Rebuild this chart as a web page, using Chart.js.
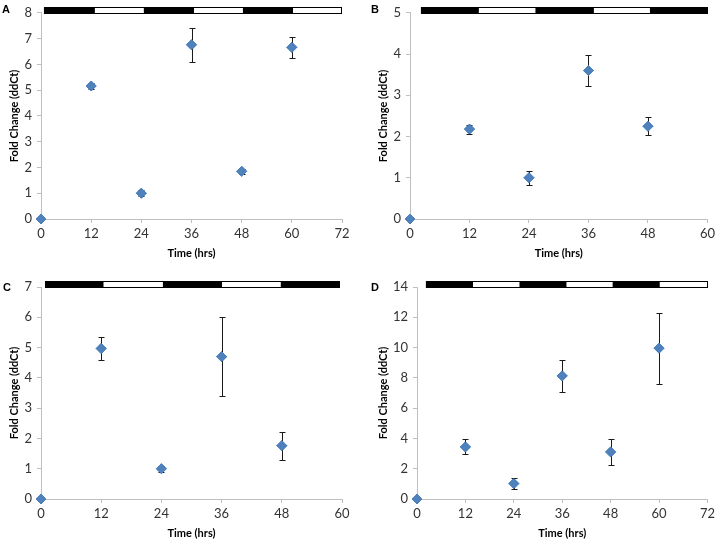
<!DOCTYPE html>
<html><head><meta charset="utf-8">
<script src="https://cdn.jsdelivr.net/npm/chart.js@4.4.1/dist/chart.umd.min.js"></script>
<style>
body{margin:0;background:#fff;width:718px;height:540px;position:relative;overflow:hidden}
.p{position:absolute;width:359px;height:270px}
.lbl{position:absolute;font:bold 11px/11px "Liberation Sans",Arial,sans-serif;color:#000}
</style></head><body>
<div class="p" style="left:0;top:0"><canvas id="cA"></canvas></div>
<div class="p" style="left:359px;top:0"><canvas id="cB"></canvas></div>
<div class="p" style="left:0;top:270px"><canvas id="cC"></canvas></div>
<div class="p" style="left:359px;top:270px"><canvas id="cD"></canvas></div>
<div class="lbl" style="left:2px;top:4px">A</div>
<div class="lbl" style="left:371px;top:4px">B</div>
<div class="lbl" style="left:3px;top:282px">C</div>
<div class="lbl" style="left:371px;top:282px">D</div>
<script>
// ---- data ----
const timesA = [0, 12, 24, 36, 48, 60];
const meanA  = [0, 5.16, 1.0, 6.76, 1.85, 6.66];
const upA    = [0, 5.27, 1.12, 7.41, 1.94, 7.08];
const loA    = [0, 5.05, 0.88, 6.10, 1.76, 6.24];
const ldA    = [0.7, 12.9, 24.6, 36.6, 48.3, 60.3, 72];

const timesB = [0, 12, 24, 36, 48];
const meanB  = [0, 2.18, 1.0, 3.60, 2.25];
const upB    = [0, 2.29, 1.17, 3.97, 2.48];
const loB    = [0, 2.06, 0.83, 3.22, 2.03];
const ldB    = [2.2, 13.9, 25.3, 37.1, 48.4, 60];

const timesC = [0, 12, 24, 36, 48];
const meanC  = [0, 4.97, 1.0, 4.70, 1.76];
const upC    = [0, 5.34, 1.10, 6.00, 2.21];
const loC    = [0, 4.58, 0.88, 3.41, 1.30];
const ldC    = [0.8, 12.5, 24.3, 36.1, 47.8, 59.6];

const timesD = [0, 12, 24, 36, 48, 60];
const meanD  = [0, 3.44, 1.02, 8.13, 3.11, 9.96];
const upD    = [0, 3.97, 1.37, 9.21, 3.97, 12.28];
const loD    = [0, 2.94, 0.64, 7.04, 2.27, 7.62];
const ldD    = [2.2, 13.9, 25.4, 37.1, 48.5, 60.2, 72];

const xTitle = 'Time (hrs)';
const yTitle = 'Fold Change (ddCt)';

// ---- plugins ----
const errPlugin = {
  id: 'errBars',
  afterDatasetsDraw(chart, args, opts) {
    const {ctx, scales: {x, y}} = chart;
    ctx.save();
    ctx.strokeStyle = '#1a1a1a';
    ctx.lineWidth = 1;
    opts.times.forEach((t, i) => {
      if (opts.up[i] === opts.lo[i]) return;
      const px = Math.round(x.getPixelForValue(t)) + 0.5;
      const yt = Math.round(y.getPixelForValue(opts.up[i])) + 0.5;
      const yb = Math.round(y.getPixelForValue(opts.lo[i])) + 0.5;
      ctx.beginPath();
      ctx.moveTo(px, yt); ctx.lineTo(px, yb);
      ctx.moveTo(px - 3, yt); ctx.lineTo(px + 3, yt);
      ctx.moveTo(px - 3, yb); ctx.lineTo(px + 3, yb);
      ctx.stroke();
    });
    ctx.restore();
    chart.getDatasetMeta(0).data.forEach(el => el.draw(ctx));
  }
};
const ldPlugin = {
  id: 'ldBar',
  afterDraw(chart, args, opts) {
    const {ctx, chartArea, scales: {x}} = chart;
    const b = opts.bounds;
    const y0 = Math.round(chartArea.top) - 6, h = 7;
    ctx.save();
    for (let i = 0; i < b.length - 1; i++) {
      const a = x.getPixelForValue(b[i]), c = x.getPixelForValue(b[i + 1]);
      ctx.fillStyle = i % 2 === 0 ? '#000' : '#fff';
      ctx.fillRect(a, y0, c - a, h);
    }
    const l = x.getPixelForValue(b[0]), r = x.getPixelForValue(b[b.length - 1]);
    ctx.strokeStyle = '#000'; ctx.lineWidth = 1;
    ctx.strokeRect(Math.round(l) + 0.5, y0 + 0.5, Math.round(r - l) - 1, h - 1);
    ctx.restore();
  }
};

const tickFont = {family: 'Lato, "Open Sans", sans-serif', size: 13};
const titleFont = {family: 'Lato, "Open Sans", sans-serif', size: 11, weight: 'bold'};
const axisGray = '#BFBFBF';

function makePanel(id, times, mean, up, lo, ld, xmax, ymax, ystep, pad, yW) {
  new Chart(document.getElementById(id), {
    type: 'scatter',
    data: {datasets: [{
      data: times.map((t, i) => ({x: t, y: mean[i]})),
      pointStyle: 'rectRot', pointRadius: 5, pointHoverRadius: 5,
      backgroundColor: '#4F81BD', borderColor: '#4F81BD', borderWidth: 1,
      clip: false
    }]},
    options: {
      responsive: true, maintainAspectRatio: false, animation: false,
      layout: {padding: pad},
      plugins: {
        legend: {display: false}, tooltip: {enabled: false},
        errBars: {times, up, lo},
        ldBar: {bounds: ld}
      },
      scales: {
        x: {
          type: 'linear', min: 0, max: xmax,
          ticks: {stepSize: 12, font: tickFont, color: '#333', padding: 3, maxRotation: 0},
          grid: {drawOnChartArea: false, drawTicks: true, tickLength: 4, color: axisGray},
          border: {color: axisGray},
          title: {display: true, text: xTitle, font: titleFont, color: '#000', padding: {top: 0, bottom: 0}},
          afterFit(s) { s.height = 41; }
        },
        y: {
          type: 'linear', min: 0, max: ymax,
          ticks: {stepSize: ystep, font: tickFont, color: '#333', padding: 5},
          grid: {drawOnChartArea: false, drawTicks: true, tickLength: 4, color: axisGray},
          border: {color: axisGray},
          title: {display: true, text: yTitle, font: titleFont, color: '#000', padding: {top: 8, bottom: 0}},
          afterFit(s) { s.width = yW; }
        }
      }
    },
    plugins: [errPlugin, ldPlugin]
  });
}

makePanel('cA', timesA, meanA, upA, loA, ldA, 72, 8, 1, {left: 0, top: 8, right: 17, bottom: 10}, 41);
makePanel('cB', timesB, meanB, upB, loB, ldB, 60, 5, 1, {left: 10, top: 8, right: 7, bottom: 10}, 41);
makePanel('cC', timesC, meanC, upC, loC, ldC, 60, 7, 1, {left: 0, top: 17, right: 17, bottom: 0}, 41);
makePanel('cD', timesD, meanD, upD, loD, ldD, 72, 14, 2, {left: 10, top: 17, right: 6, bottom: 0}, 48);
</script>
</body></html>
